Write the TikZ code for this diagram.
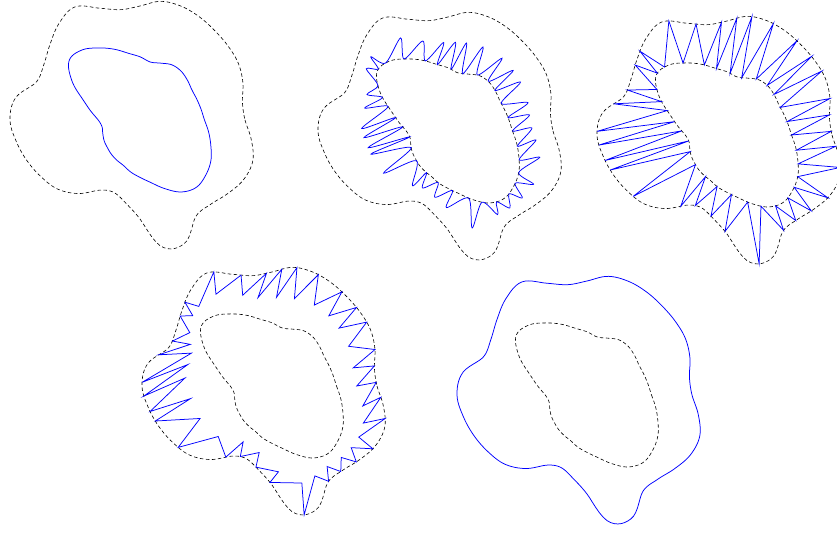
\documentclass[tikz,border=0pt]{standalone}
\usepackage{tikz}

\makeatletter
% radii of the two curves, one every 10 degrees (y axis points down)
\newcommand\defradii[2]{%
  \foreach \v [count=\i from 0] in {#2} {\expandafter\xdef\csname #1@\i\endcsname{\v}}}
\defradii{ro}{105,113,120,119.5,114.5,110,111.5,131,129,99,84,77,81,96,107.5,114,120,125.5,
  130,126.5,110.5,111,117.5,126,130.5,119,112,114,120.5,121,119,116.5,115,113.5,109.5,104}
\defradii{ri}{64.5,69.7,75.4,81.8,85.8,87.8,83.1,73.1,63.6,57.4,52.9,48.4,46.4,44.6,42.7,41.4,39.6,38.6,
  41.8,49.8,61.1,78.7,92.5,91.1,83.2,75.3,67.8,63.2,58.9,60.5,63.7,63.8,61.9,60,60.5,62}

% periodic Catmull-Rom spline through the radii
\newcommand\splineat[2]{%
  \pgfmathsetmacro\sv{mod(#2+720,360)/10}%
  \pgfmathtruncatemacro\kb{floor(\sv)}%
  \pgfmathsetmacro\uu{\sv-\kb}%
  \pgfmathtruncatemacro\ka{mod(\kb+35,36)}%
  \pgfmathtruncatemacro\kc{mod(\kb+1,36)}%
  \pgfmathtruncatemacro\kd{mod(\kb+2,36)}%
  \edef\pa{\csname #1@\ka\endcsname}\edef\pb{\csname #1@\kb\endcsname}%
  \edef\pc{\csname #1@\kc\endcsname}\edef\pd{\csname #1@\kd\endcsname}%
  \pgfmathparse{\pb+0.5*\uu*(\pc-\pa+\uu*(2*\pa-5*\pb+4*\pc-\pd+\uu*(3*\pb-\pa-3*\pc+\pd)))}}
\pgfmathdeclarefunction{rout}{1}{\begingroup\splineat{ro}{#1}\pgfmath@smuggleone\pgfmathresult\endgroup}
\pgfmathdeclarefunction{rin}{1}{\begingroup\splineat{ri}{#1}\pgfmath@smuggleone\pgfmathresult\endgroup}
% point between the curves: 0 = inner, 1 = outer
\pgfmathdeclarefunction{rmix}{2}{\begingroup
  \pgfmathsetmacro\rinner{rin(#1)}\pgfmathsetmacro\router{rout(#1)}%
  \pgfmathparse{\rinner+#2*(\router-\rinner)}\pgfmath@smuggleone\pgfmathresult\endgroup}
\makeatother

% angle of each tip / angle of the following turn
\def\tiplist{-2/12.4,5.9/22.1,16/30.5,31.9/37.9,42/45.9,51.2/55.6,59.3/64.5,76/72.9,
  91.2/85.7,101.2/100.9,114.2/117.3,123/136.8,146.8/155.7,163.3/171.2,168.2/185.2,
  175.5/194.3,181.6/202.2,195.4/207,204.3/213,217.3/221.6,223.9/227.4,243/238.6,
  254.4/252.1,267.2/261,274.8/272.9,281.9/284.4,292.6/297.6,306.6/309,317.1/319.2,
  326/332.6,340.5/347.4,348.9/360}

% #1 = lambda at the tips, #2 = lambda at the turns
\newcommand\zigzag[2]{%
  \draw[curve] (0:{rmix(0,#2)})
    \foreach \tip/\back in \tiplist {
      -- (\tip:{rmix(\tip,#1)}) -- (\back:{rmix(\back,#2)})
    } -- cycle;}
% same points, drawn as a smooth wave
\newcommand\wave[2]{%
  \gdef\wavepts{}%
  \foreach \tip/\back in \tiplist {%
    \pgfmathsetmacro\rhi{rmix(\tip,#1)}%
    \pgfmathsetmacro\rlo{rmix(\back,#2)}%
    \xdef\wavepts{\wavepts (\tip:\rhi) (\back:\rlo)}}%
  \edef\drawwave{\noexpand\draw[curve] plot[smooth cycle] coordinates {\wavepts};}\drawwave}

\begin{document}
\begin{tikzpicture}[x=1pt,y=-1pt,
  outline/.style={black,line width=0.6pt,dash pattern=on 3.5pt off 2.5pt},
  curve/.style={blue,line width=0.75pt},
  every plot/.style={variable=\t,domain=0:360,samples=241}]
\useasboundingbox (0,0) rectangle (837,534);

% top left: outer dashed, inner blue
\begin{scope}[shift={(140,120)}]
\draw[outline] plot (\t:{rout(\t)}) -- cycle;
\draw[curve] plot (\t:{rin(\t)}) -- cycle;
\end{scope}

% top middle
\begin{scope}[shift={(448,131)}]
\draw[outline] plot (\t:{rout(\t)}) -- cycle;
\draw[outline] plot (\t:{rin(\t)}) -- cycle;
\wave{0.5}{0}
\end{scope}

% top right
\begin{scope}[shift={(727,135)}]
\draw[outline] plot (\t:{rout(\t)}) -- cycle;
\draw[outline] plot (\t:{rin(\t)}) -- cycle;
\zigzag{1}{0}
\end{scope}

% bottom left
\begin{scope}[shift={(272,386)}]
\draw[outline] plot (\t:{rout(\t)}) -- cycle;
\draw[outline] plot (\t:{rin(\t)}) -- cycle;
\zigzag{1}{0.5}
\end{scope}

% bottom right: outer blue, inner dashed
\begin{scope}[shift={(587,395)}]
\draw[curve] plot (\t:{rout(\t)}) -- cycle;
\draw[outline] plot (\t:{rin(\t)}) -- cycle;
\end{scope}
\end{tikzpicture}
\end{document}
